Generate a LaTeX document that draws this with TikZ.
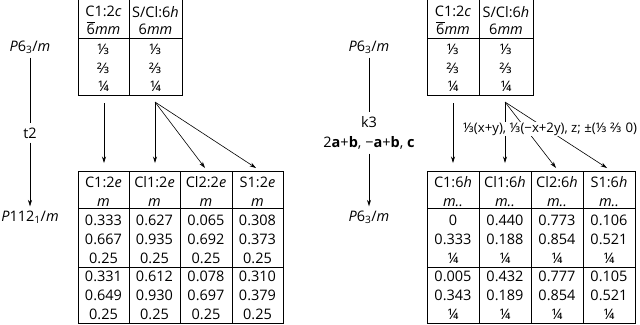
\documentclass[tikz,border=0pt]{standalone}
\usepackage{fontspec}
\setmainfont{Open Sans}
\newfontfamily\fracf{Noto Sans}
\usetikzlibrary{arrows.meta}
\newcommand\obsix{$\overline{\hbox{6}}$}
\newcommand\tthird{{\fracf ⅓}}
\newcommand\ttwothirds{{\fracf ⅔}}
\newcommand\tquarter{{\fracf ¼}}
\begin{document}
\begin{tikzpicture}[x=1bp,y=-1bp,
  grid/.style={line width=0.8bp},
  txt/.style={inner sep=0pt, align=center, font=\fontsize{14.5bp}{19bp}\selectfont},
  tophdr/.style={inner sep=0pt, align=center, font=\fontsize{14.5bp}{17.5bp}\selectfont},
  topdat/.style={inner sep=0pt, align=center, font=\fontsize{14.5bp}{18.5bp}\selectfont},
  lab/.style={inner sep=4bp, align=center, font=\fontsize{14.5bp}{20bp}\selectfont},
  arr/.style={-{Stealth[length=6.5bp,width=4bp]}, line width=0.6bp},
  conn/.style={line width=0.6bp}]
\useasboundingbox (0,0) rectangle (640,324);

% ---------- left top table ----------
\draw[grid] (78,0) -- (78,95) -- (182,95) -- (182,0);
\draw[grid] (78,38) -- (182,38);
\draw[grid] (129,0) -- (129,95);
\node[tophdr] (ah1) at (103.5,20.5) {C1:2\textit{c}\\\obsix\textit{mm}};
\node[tophdr] (ah2) at (155.5,20.5) {S/Cl:6\textit{h}\\6\textit{mm}};
\node[topdat] (ad1) at (103.5,68) {\tthird\\\ttwothirds\\\tquarter};
\node[topdat] (ad2) at (155.5,68) {\tthird\\\ttwothirds\\\tquarter};

% ---------- left bottom table ----------
\draw[grid] (78,171) rectangle (283,323);
\draw[grid] (78,208) -- (283,208);
\draw[grid] (78,267) -- (283,267);
\foreach \xx in {129,180,232} \draw[grid] (\xx,171) -- (\xx,323);
\node[txt] (bh1) at (103.5,191.5) {C1:2\textit{e}\\\textit{m}};
\node[txt] (bh2) at (154.5,191.5) {Cl1:2\textit{e}\\\textit{m}};
\node[txt] (bh3) at (206,191.5) {Cl2:2\textit{e}\\\textit{m}};
\node[txt] (bh4) at (257.5,191.5) {S1:2\textit{e}\\\textit{m}};
\node[txt] (bd1) at (103.5,239.5) {0.333\\0.667\\0.25};
\node[txt] (bd2) at (154.5,239.5) {0.627\\0.935\\0.25};
\node[txt] (bd3) at (206,239.5) {0.065\\0.692\\0.25};
\node[txt] (bd4) at (257.5,239.5) {0.308\\0.373\\0.25};
\node[txt] (be1) at (103.5,295.5) {0.331\\0.649\\0.25};
\node[txt] (be2) at (154.5,295.5) {0.612\\0.930\\0.25};
\node[txt] (be3) at (206,295.5) {0.078\\0.697\\0.25};
\node[txt] (be4) at (257.5,295.5) {0.310\\0.379\\0.25};

% ---------- left arrows ----------
\coordinate (ls1) at (104,103);
\coordinate (ls2) at (155,102);
\coordinate (le1) at (104,163);
\coordinate (le2) at (155,163);
\coordinate (le3) at (205,168);
\coordinate (le4) at (256,168);
\draw[arr] (ls1) -- (le1);
\draw[arr] (ls2) -- (le2);
\draw[arr] (ls2) -- (le3);
\draw[arr] (ls2) -- (le4);

\node[lab] (Lg) at (30,47) {\textit{P}6\textsubscript{3}/\textit{m}};
\node[lab] (Lt) at (30,133) {t2};
\node[lab] (Ls) at (30,217) {\textit{P}112\textsubscript{1}/\textit{m}};
\draw[conn] (Lg) -- (Lt);
\draw[arr] (Lt) -- (Ls);

% ---------- right top table ----------
\draw[grid] (427,0) -- (427,95) -- (533,95) -- (533,0);
\draw[grid] (427,38) -- (533,38);
\draw[grid] (479,0) -- (479,95);
\node[tophdr] (ch1) at (453,20.5) {C1:2\textit{c}\\\obsix\textit{mm}};
\node[tophdr] (ch2) at (506,20.5) {S/Cl:6\textit{h}\\6\textit{mm}};
\node[topdat] (cd1) at (453,68) {\tthird\\\ttwothirds\\\tquarter};
\node[topdat] (cd2) at (506,68) {\tthird\\\ttwothirds\\\tquarter};

% ---------- right bottom table ----------
\draw[grid] (427,171) rectangle (635,323);
\draw[grid] (427,208) -- (635,208);
\draw[grid] (427,267) -- (635,267);
\foreach \xx in {479,531,583} \draw[grid] (\xx,171) -- (\xx,323);
\node[txt] (dh1) at (453,191.5) {C1:6\textit{h}\\\textit{m..}};
\node[txt] (dh2) at (505,191.5) {Cl1:6\textit{h}\\\textit{m..}};
\node[txt] (dh3) at (557,191.5) {Cl2:6\textit{h}\\\textit{m..}};
\node[txt] (dh4) at (609,191.5) {S1:6\textit{h}\\\textit{m..}};
\node[txt] (dd1) at (453,239.5) {0\\0.333\\\tquarter};
\node[txt] (dd2) at (505,239.5) {0.440\\0.188\\\tquarter};
\node[txt] (dd3) at (557,239.5) {0.773\\0.854\\\tquarter};
\node[txt] (dd4) at (609,239.5) {0.106\\0.521\\\tquarter};
\node[txt] (de1) at (453,295.5) {0.005\\0.343\\\tquarter};
\node[txt] (de2) at (505,295.5) {0.432\\0.189\\\tquarter};
\node[txt] (de3) at (557,295.5) {0.777\\0.854\\\tquarter};
\node[txt] (de4) at (609,295.5) {0.105\\0.521\\\tquarter};

% ---------- right arrows ----------
\coordinate (rs1) at (453,103);
\coordinate (rs2) at (505,102);
\coordinate (re1) at (453,163);
\coordinate (re2) at (505,163);
\coordinate (re3) at (556,168);
\coordinate (re4) at (607,168);
\draw[arr] (rs1) -- (re1);
\draw[arr] (rs2) -- (re2);
\draw[arr] (rs2) -- (re3);
\draw[arr] (rs2) -- (re4);
\node[lab, fill=white, inner sep=1bp, font=\fontsize{13.2bp}{16bp}\selectfont] (Rt) at (550,129) {\tthird(x+y), \tthird(−x+2y), z; ±(\tthird{} \ttwothirds{} 0)};

\node[lab] (Rg) at (369,47) {\textit{P}6\textsubscript{3}/\textit{m}};
\node[lab] (Rk) at (369,133) {k3\\2\textbf{a}+\textbf{b}, −\textbf{a}+\textbf{b}, \textbf{c}};
\node[lab] (Rs) at (369,217) {\textit{P}6\textsubscript{3}/\textit{m}};
\draw[conn] (Rg) -- (Rk);
\draw[arr] (Rk) -- (Rs);
\end{tikzpicture}
\end{document}
